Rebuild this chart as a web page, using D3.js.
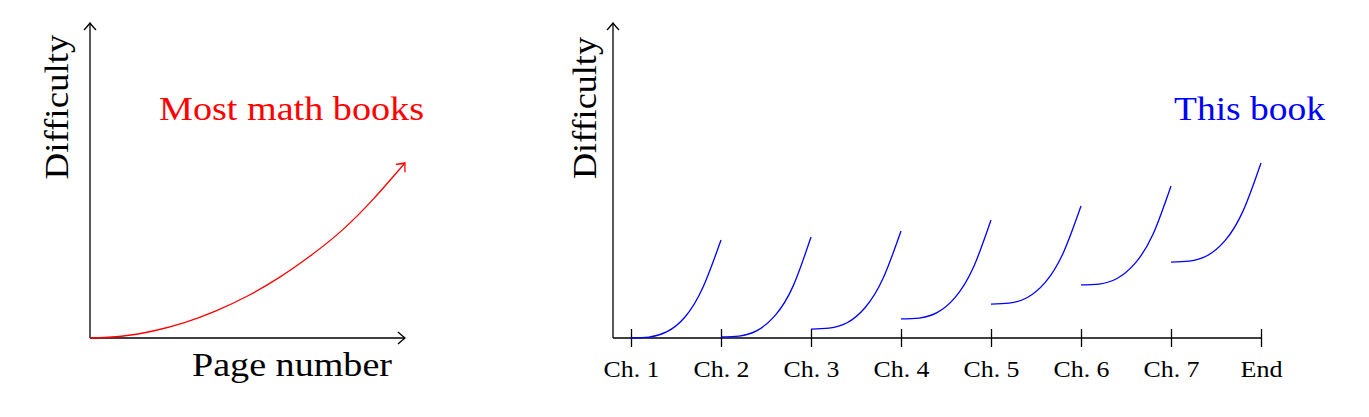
<!DOCTYPE html>
<html>
<head>
<meta charset="utf-8">
<script src="https://cdn.jsdelivr.net/npm/d3@7"></script>
<style>
  body { margin: 0; background: #fff; }
  text { font-family: "Liberation Serif", "DejaVu Serif", serif; }
</style>
</head>
<body>
<script>
// left chart: "most math books" curve, page (0-100) vs difficulty (0-100)
const pages = [0, 10, 20, 30, 40, 50, 60, 70, 80, 90, 100];
const mathBooks = [0, 1, 4, 8.8, 15.5, 24, 34.5, 47, 61.5, 79.5, 100];

// right chart: one curve per chapter, sampled at these fractions of the chapter
const chapterLabels = ["Ch. 1", "Ch. 2", "Ch. 3", "Ch. 4", "Ch. 5", "Ch. 6", "Ch. 7", "End"];
const chapterSteps = [0, 0.2, 0.4, 0.6, 0.8, 1];
const ch1 = [0, 0.5, 3.6, 12, 29, 56];
const ch2 = [0.6, 1.1, 4.2, 12.8, 29.5, 57.7];
const ch3 = [5.1, 5.6, 8.7, 17.3, 34, 61.1];
const ch4 = [10.9, 11.4, 14.5, 23.1, 39.8, 67.4];
const ch5 = [19.4, 19.9, 23, 31.6, 48.3, 75.4];
const ch6 = [30.3, 30.8, 34, 42.6, 59.3, 86.9];
const ch7 = [43.4, 43.9, 47, 55.6, 72.5, 100];
const chapters = [ch1, ch2, ch3, ch4, ch5, ch6, ch7];

const width = 1369, height = 417;
const svg = d3.select("body").append("svg").attr("width", width).attr("height", height);

const defs = svg.append("defs");
function arrow(id, color) {
    defs.append("marker")
        .attr("id", id)
        .attr("viewBox", "-10 -8 12 16")
        .attr("markerUnits", "userSpaceOnUse")
        .attr("markerWidth", 12).attr("markerHeight", 16)
        .attr("refX", 0).attr("refY", 0)
        .attr("orient", "auto")
        .append("path")
        .attr("d", "M-7,-6 Q-2,-1.5 0,0 Q-2,1.5 -7,6")
        .attr("fill", "none").attr("stroke", color).attr("stroke-width", 1.3);
}
arrow("arrBlack", "#000");
arrow("arrRed", "#f00");

// shared difficulty scale
let y = d3.scaleLinear().domain([0, 100]).range([338, 163]);
const yTop = 180;

// ---------- left chart ----------
let xL = d3.scaleLinear().domain([0, 100]).range([90, 405]);
let left = svg.append("g");

left.append("line")
    .attr("x1", xL(0)).attr("y1", y(0)).attr("x2", xL(0)).attr("y2", y(yTop))
    .attr("stroke", "#000").attr("stroke-width", 1.3).attr("marker-end", "url(#arrBlack)");
left.append("line")
    .attr("x1", xL(0)).attr("y1", y(0)).attr("x2", xL(100)).attr("y2", y(0))
    .attr("stroke", "#000").attr("stroke-width", 1.3).attr("marker-end", "url(#arrBlack)");

let lineL = d3.line()
    .x((d, i) => xL(pages[i]))
    .y(d => y(d))
    .curve(d3.curveNatural);

left.append("path")
    .attr("d", lineL(mathBooks))
    .attr("fill", "none").attr("stroke", "#f00").attr("stroke-width", 1.3)
    .attr("marker-end", "url(#arrRed)");

left.append("text")
    .attr("transform", "translate(68,107) rotate(-90)")
    .attr("text-anchor", "middle")
    .attr("font-size", 34)
    .attr("textLength", 145).attr("lengthAdjust", "spacingAndGlyphs")
    .text("Difficulty");
left.append("text")
    .attr("x", 192).attr("y", 376)
    .attr("font-size", 34)
    .attr("textLength", 200).attr("lengthAdjust", "spacingAndGlyphs")
    .text("Page number");
left.append("text")
    .attr("x", 159).attr("y", 120)
    .attr("font-size", 34).attr("fill", "#f00")
    .attr("textLength", 265).attr("lengthAdjust", "spacingAndGlyphs")
    .text("Most math books");

// ---------- right chart ----------
let xR = d3.scaleLinear().domain([0, chapterLabels.length - 1]).range([631, 1261]);
let right = svg.append("g");
const yAxisX = 613;

right.append("line")
    .attr("x1", yAxisX).attr("y1", y(0)).attr("x2", yAxisX).attr("y2", y(yTop))
    .attr("stroke", "#000").attr("stroke-width", 1.3).attr("marker-end", "url(#arrBlack)");
right.append("line")
    .attr("x1", yAxisX).attr("y1", y(0)).attr("x2", xR(chapterLabels.length - 1)).attr("y2", y(0))
    .attr("stroke", "#000").attr("stroke-width", 1.3);

let axis = right.append("g")
    .attr("transform", `translate(0,${y(0)})`)
    .call(d3.axisBottom(xR)
        .tickValues(d3.range(chapterLabels.length))
        .tickFormat(i => chapterLabels[i])
        .tickSize(9));
axis.select(".domain").remove();
axis.selectAll(".tick line").attr("y1", -9).attr("y2", 9).attr("stroke", "#000").attr("stroke-width", 1.3);
axis.selectAll(".tick text")
    .attr("y", 39).attr("dy", null)
    .attr("font-family", "Liberation Serif")
    .attr("font-size", 24).attr("fill", "#000")
    .attr("textLength", d => chapterLabels[d] === "End" ? 42 : 56)
    .attr("lengthAdjust", "spacingAndGlyphs");

let lineR = d3.line()
    .curve(d3.curveNatural);

right.selectAll("path.chapter")
    .data(chapters)
    .join("path")
    .attr("class", "chapter")
    .attr("d", (vals, c) => lineR(vals.map((v, i) => [xR(c + chapterSteps[i]), y(v)])))
    .attr("fill", "none").attr("stroke", "#00f").attr("stroke-width", 1.3);

right.append("text")
    .attr("transform", "translate(596,108) rotate(-90)")
    .attr("text-anchor", "middle")
    .attr("font-size", 34)
    .attr("textLength", 142).attr("lengthAdjust", "spacingAndGlyphs")
    .text("Difficulty");
right.append("text")
    .attr("x", 1174).attr("y", 120)
    .attr("font-size", 34).attr("fill", "#00f")
    .attr("textLength", 151).attr("lengthAdjust", "spacingAndGlyphs")
    .text("This book");
</script>
</body>
</html>
